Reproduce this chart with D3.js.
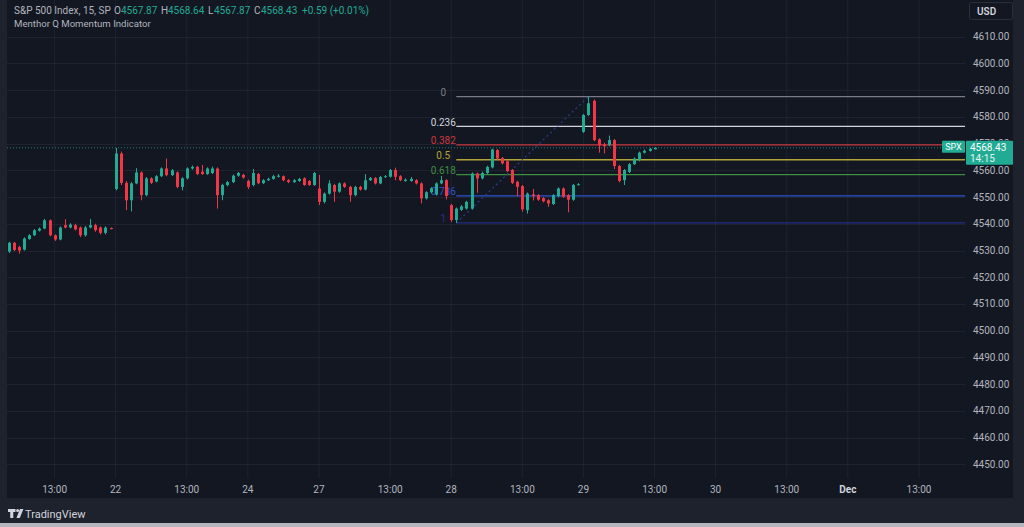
<!DOCTYPE html>
<html>
<head>
<meta charset="utf-8">
<script src="https://cdn.jsdelivr.net/npm/d3@7"></script>
<style>
html, body { margin: 0; padding: 0; background: #1e222d; }
svg { display: block; font-family: "Roboto", "Noto Sans", sans-serif; }
</style>
</head>
<body>
<svg class="spx-chart" width="1024" height="527"></svg>
<script>
// 15 min candles, [open, high, low, close], one array per session
var day21 = [
  [4529.6,4533.3,4529.0,4532.9],[4532.9,4533.2,4529.8,4530.2],[4531.3,4531.8,4528.8,4530.0],
  [4530.3,4534.9,4530.0,4534.5],[4534.3,4536.1,4534.0,4535.7],[4535.7,4538.0,4535.4,4537.6],
  [4537.4,4538.6,4537.1,4538.2],[4538.2,4541.8,4538.0,4541.3],[4541.3,4541.6,4535.3,4535.7],
  [4535.7,4536.0,4533.6,4534.1],[4534.1,4539.0,4533.8,4538.6],[4539.5,4541.7,4538.3,4538.6],
  [4538.6,4540.2,4538.3,4539.7],[4539.5,4540.0,4537.5,4537.9],[4538.6,4539.0,4535.0,4535.7],
  [4535.7,4539.2,4535.2,4538.6],[4538.6,4541.8,4538.3,4539.5],[4539.5,4540.0,4537.0,4537.6],
  [4538.6,4539.0,4536.0,4536.6],[4536.6,4539.0,4536.0,4538.6],[4538.4,4538.6,4537.9,4538.0]
];
var day22 = [
  [4553.0,4568.4,4552.5,4566.3],[4566.3,4567.0,4554.5,4555.3],[4555.3,4556.0,4545.1,4548.8],
  [4548.8,4555.6,4544.6,4555.1],[4555.1,4560.8,4554.8,4559.2],[4559.2,4559.6,4548.8,4550.7],
  [4550.7,4557.5,4550.3,4557.0],[4557.0,4557.4,4554.9,4555.3],[4555.8,4558.2,4555.5,4557.8],
  [4557.8,4561.1,4557.5,4560.7],[4560.7,4564.4,4557.8,4558.2],[4558.2,4560.5,4557.9,4560.0],
  [4559.2,4559.6,4553.3,4553.8],[4553.8,4557.4,4552.5,4557.0],[4557.0,4561.1,4556.6,4560.7],
  [4560.7,4561.8,4560.3,4561.3],[4561.3,4561.7,4558.2,4558.6],[4559.5,4562.0,4558.3,4558.6],
  [4558.6,4561.1,4558.3,4560.7],[4559.0,4561.4,4558.6,4560.7],[4560.7,4561.1,4545.7,4550.7],
  [4550.7,4555.0,4548.8,4554.5],[4554.5,4556.0,4554.0,4555.6],[4555.6,4558.4,4555.2,4558.0],
  [4558.0,4559.4,4557.6,4559.0],[4558.3,4558.7,4556.9,4557.3]
];
var day24 = [
  [4556.0,4556.5,4553.0,4553.8],[4554.5,4560.5,4554.0,4559.0],[4558.6,4559.0,4554.8,4555.2],
  [4555.2,4556.7,4554.9,4556.3],[4556.3,4557.2,4556.0,4556.8],[4556.8,4558.3,4556.5,4557.8],
  [4557.6,4558.6,4557.3,4558.0],[4557.8,4558.1,4555.9,4556.3],[4556.3,4556.7,4555.2,4555.6],
  [4555.6,4556.7,4555.3,4556.3],[4556.0,4557.2,4555.7,4556.8],[4557.0,4557.4,4554.2,4554.5],
  [4556.0,4556.4,4554.2,4554.5],[4554.5,4559.4,4554.2,4559.0]
];
var day27 = [
  [4553.2,4558.3,4547.0,4548.2],[4548.2,4551.7,4547.6,4551.3],[4551.3,4556.3,4550.9,4555.1],
  [4554.5,4554.9,4548.2,4552.0],[4552.0,4555.5,4551.6,4555.1],[4555.1,4555.5,4553.4,4553.8],
  [4553.8,4554.2,4548.2,4550.7],[4550.7,4554.2,4550.3,4553.8],[4553.8,4554.2,4552.4,4552.8],
  [4552.8,4558.6,4552.5,4556.3],[4556.3,4557.5,4556.0,4557.1],[4557.1,4557.5,4554.7,4555.1],
  [4555.1,4557.9,4554.8,4557.5],[4557.5,4558.2,4557.2,4557.8],[4557.6,4560.5,4557.3,4560.1],
  [4560.1,4561.0,4556.3,4557.6],[4557.8,4558.2,4555.9,4556.3],[4556.0,4557.0,4555.7,4556.5],
  [4556.0,4557.5,4555.7,4556.8],[4556.3,4556.7,4554.7,4555.1],[4555.1,4555.5,4547.6,4549.5],
  [4549.5,4552.2,4549.1,4551.8],[4551.8,4553.7,4551.4,4553.3],[4551.0,4555.5,4550.6,4555.1],
  [4555.1,4557.9,4554.8,4556.3],[4556.3,4556.7,4549.1,4550.4]
];
var day28 = [
  [4547.0,4547.4,4540.7,4541.4],[4541.4,4546.1,4540.3,4545.7],[4545.2,4547.0,4544.8,4546.5],
  [4545.7,4548.6,4545.3,4548.2],[4545.7,4559.2,4545.3,4558.8],[4558.8,4559.2,4551.6,4557.0],
  [4557.0,4559.5,4556.6,4559.0],[4559.0,4561.7,4558.6,4561.3],[4561.1,4568.1,4560.7,4567.8],
  [4567.6,4568.0,4564.0,4564.4],[4564.6,4565.0,4562.2,4562.6],[4563.4,4563.8,4559.3,4559.7],
  [4560.1,4560.5,4554.9,4555.3],[4555.7,4556.1,4550.3,4553.8],[4554.1,4554.5,4544.5,4545.4],
  [4545.1,4551.7,4543.8,4551.3],[4551.0,4553.0,4548.7,4550.3],[4550.7,4551.1,4548.6,4549.0],
  [4549.6,4550.0,4548.0,4548.4],[4548.8,4549.2,4546.3,4547.6],[4547.4,4551.1,4547.0,4550.7],
  [4550.3,4553.6,4549.9,4553.2],[4553.2,4553.6,4549.7,4550.1],[4550.7,4551.1,4544.3,4549.0],
  [4549.0,4554.9,4548.6,4554.5],[4554.5,4555.2,4554.3,4554.8]
];
var day29 = [
  [4574.4,4581.1,4574.0,4580.7],[4580.7,4587.6,4580.3,4585.1],[4586.0,4586.5,4570.9,4571.3],
  [4571.6,4572.0,4566.6,4569.4],[4569.6,4570.3,4566.3,4569.0],[4569.4,4573.0,4569.0,4571.3],
  [4571.3,4571.7,4560.5,4561.6],[4561.6,4562.0,4555.5,4556.0],[4556.3,4560.5,4554.5,4560.1],
  [4559.4,4562.7,4559.0,4562.3],[4562.3,4564.8,4562.0,4564.4],[4563.8,4567.0,4563.4,4566.6],
  [4566.6,4567.8,4566.3,4567.3],[4567.3,4568.4,4567.0,4568.0],[4567.87,4568.64,4567.87,4568.43]
];
// first 15 min slot of each session (26 slots per full day, 24th is a half day)
var sessionData = [day21, day22, day24, day27, day28, day29];
var sessionFirstSlot = [5, 26, 52, 66, 92, 118];

// axis ticks
var timeTickSlots = [14, 26, 40, 52, 66, 80, 92, 106, 118, 132, 144, 158, 170, 184];
var timeTickLabels = ['13:00','22','13:00','24','27','13:00','28','13:00','29','13:00','30','13:00','Dec','13:00'];
var priceTicks = [4450,4460,4470,4480,4490,4500,4510,4520,4530,4540,4550,4560,4570,4580,4590,4600,4610];

// fibonacci retracement drawn from the 28th low to the 29th high
var fibLevels = [0, 0.236, 0.382, 0.5, 0.618, 0.786, 1];
var fibColors = ['#787b86', '#d1d4dc', '#c9393f', '#b3a437', '#3f8e3f', '#2f55d0', '#272d86'];

var lastPrice = 4568.43;

// flatten sessions into bars with slot index
var bars = [];
sessionData.forEach(function(day, k) {
  day.forEach(function(d, i) {
    bars.push({slot: sessionFirstSlot[k] + i, o: d[0], h: d[1], l: d[2], c: d[3]});
  });
});

var green = '#22ab94', red = '#f23645';
var svg = d3.select('svg.spx-chart');
var pane = {l: 7, r: 965, t: 0, b: 478};

var xScale = d3.scaleLinear().domain([0, 184]).range([-16.6, 919.0]);
var yScale = d3.scaleLinear().domain([4450, 4610]).range([464.3, 36.7]);
var py = yScale(lastPrice);

// background: outer frame, pane, footer
svg.append('rect').attr('width', 1024).attr('height', 527).attr('fill', '#1e222d');
svg.append('rect').attr('x', 7).attr('y', 0).attr('width', 1006).attr('height', 498).attr('fill', '#131722');
svg.append('rect').attr('x', 0).attr('y', 523).attr('width', 1024).attr('height', 4).attr('fill', '#b4b6bb');

var defs = svg.append('defs');
defs.append('clipPath').attr('id', 'pane-clip')
  .append('rect').attr('x', pane.l).attr('y', pane.t)
  .attr('width', pane.r - pane.l).attr('height', pane.b - pane.t);
// the price tag hides most of the label behind it
defs.append('clipPath').attr('id', 'scale-clip')
  .append('path').attr('d', 'M965,0 H1013 V' + (py - 7) + ' H965 Z M965,' + (py + 17) + ' H1013 V478 H965 Z');

var gridG = svg.append('g').attr('class', 'grid').attr('clip-path', 'url(#pane-clip)');
gridG.selectAll('line.v').data(timeTickSlots).enter().append('line')
  .attr('class', 'v')
  .attr('x1', function(d) { return xScale(d); }).attr('x2', function(d) { return xScale(d); })
  .attr('y1', pane.t).attr('y2', pane.b)
  .attr('stroke', '#1f2330').attr('stroke-width', 1);
gridG.selectAll('line.h').data(priceTicks).enter().append('line')
  .attr('class', 'h')
  .attr('x1', pane.l).attr('x2', pane.r)
  .attr('y1', function(d) { return Math.round(yScale(d)) + 0.5; })
  .attr('y2', function(d) { return Math.round(yScale(d)) + 0.5; })
  .attr('stroke', '#1f2330').attr('stroke-width', 1);

var plotG = svg.append('g').attr('clip-path', 'url(#pane-clip)');

// current price dotted line
plotG.append('line')
  .attr('x1', pane.l).attr('x2', pane.r)
  .attr('y1', py).attr('y2', py)
  .attr('stroke', green).attr('stroke-width', 1).attr('stroke-dasharray', '1,2').attr('opacity', 0.7);

// fib retracement
var fibLowBar = day28[1], fibHighBar = day29[1];
var fibLow = fibLowBar[2], fibHigh = fibHighBar[1];
var fibX0 = xScale(sessionFirstSlot[4] + 1), fibX1 = xScale(sessionFirstSlot[5] + 1);
var fibG = plotG.append('g').attr('class', 'fib');

fibG.selectAll('line.level').data(fibLevels).enter().append('line')
  .attr('class', 'level')
  .attr('x1', fibX0).attr('x2', pane.r)
  .attr('y1', function(d) { return yScale(fibHigh - d * (fibHigh - fibLow)); })
  .attr('y2', function(d) { return yScale(fibHigh - d * (fibHigh - fibLow)); })
  .attr('stroke', function(d, i) { return fibColors[i]; })
  .attr('stroke-width', 1.3);

fibG.selectAll('text.level').data(fibLevels).enter().append('text')
  .attr('class', 'level')
  .attr('x', fibX0 - 13)
  .attr('y', function(d) { return yScale(fibHigh - d * (fibHigh - fibLow)) - 0.5; })
  .attr('text-anchor', 'middle')
  .attr('font-size', 10)
  .attr('fill', function(d, i) { return fibColors[i]; })
  .text(function(d) { return String(d); });

// dotted trend line of the retracement
fibG.append('line')
  .attr('x1', fibX0).attr('y1', yScale(fibLow))
  .attr('x2', fibX1).attr('y2', yScale(fibHigh))
  .attr('stroke', '#2a3d8f').attr('stroke-width', 1.2).attr('stroke-dasharray', '2,3');

// candles
var candles = plotG.selectAll('g.candle').data(bars).enter().append('g')
  .attr('class', 'candle')
  .attr('transform', function(d) { return 'translate(' + Math.round(xScale(d.slot)) + ',0)'; });
candles.append('line')
  .attr('x1', 0.5).attr('x2', 0.5)
  .attr('y1', function(d) { return yScale(d.h); })
  .attr('y2', function(d) { return yScale(d.l); })
  .attr('stroke', function(d) { return d.c >= d.o ? green : red; })
  .attr('stroke-width', 1);
candles.append('rect')
  .attr('x', -1).attr('width', 3)
  .attr('y', function(d) { return yScale(Math.max(d.o, d.c)); })
  .attr('height', function(d) { return Math.max(1, Math.abs(yScale(d.o) - yScale(d.c))); })
  .attr('fill', function(d) { return d.c >= d.o ? green : red; });

// price scale labels
svg.append('g').attr('clip-path', 'url(#scale-clip)')
  .selectAll('text').data(priceTicks).enter().append('text')
  .attr('x', 973).attr('y', function(d) { return yScale(d) + 3.5; })
  .attr('font-size', 10).attr('fill', '#b2b5be')
  .text(function(d) { return d.toFixed(2); });

// USD box
svg.append('rect').attr('x', 969.5).attr('y', 2.5).attr('width', 43).attr('height', 17).attr('rx', 2)
  .attr('fill', '#131722').attr('stroke', '#2a2e39');
svg.append('text').attr('x', 977).attr('y', 15).attr('font-size', 10).attr('font-weight', 600)
  .attr('fill', '#d1d4dc').text('USD');

// last price tags
svg.append('rect').attr('x', 942).attr('y', py - 7).attr('width', 23).attr('height', 12).attr('rx', 1).attr('fill', green);
svg.append('text').attr('x', 953.5).attr('y', py + 2.5).attr('text-anchor', 'middle')
  .attr('font-size', 9).attr('fill', '#ffffff').text('SPX');
svg.append('rect').attr('x', 966).attr('y', py - 7).attr('width', 47).attr('height', 24).attr('rx', 1).attr('fill', green);
svg.append('text').attr('x', 970).attr('y', py + 3.5).attr('font-size', 10).attr('fill', '#ffffff').text(lastPrice.toFixed(2));
svg.append('text').attr('x', 970).attr('y', py + 14.5).attr('font-size', 10).attr('fill', '#e6f5f1').text('14:15');

// time axis labels
svg.append('g').selectAll('text').data(timeTickSlots).enter().append('text')
  .attr('x', function(d) { return xScale(d); }).attr('y', 493)
  .attr('text-anchor', 'middle').attr('font-size', 10)
  .attr('font-weight', function(d, i) { return timeTickLabels[i] === 'Dec' ? 700 : 400; })
  .attr('fill', function(d, i) { return timeTickLabels[i] === 'Dec' ? '#d1d4dc' : '#b2b5be'; })
  .text(function(d, i) { return timeTickLabels[i]; });

// legend header
var header = svg.append('text').attr('y', 14).attr('font-size', 10);
var headerParts = [
  {x: 14, t: 'S&P 500 Index, 15, SP', c: '#b2b5be'},
  {x: 114, t: 'O', c: '#b2b5be'}, {x: 121, t: '4567.87', c: green},
  {x: 161, t: 'H', c: '#b2b5be'}, {x: 168, t: '4568.64', c: green},
  {x: 208, t: 'L', c: '#b2b5be'}, {x: 214, t: '4567.87', c: green},
  {x: 254, t: 'C', c: '#b2b5be'}, {x: 261, t: '4568.43', c: green},
  {x: 302, t: '+0.59 (+0.01%)', c: green}
];
headerParts.forEach(function(p) {
  header.append('tspan').attr('x', p.x).attr('fill', p.c).text(p.t);
});
svg.append('text').attr('x', 14).attr('y', 27).attr('font-size', 9.6).attr('fill', '#b2b5be')
  .text('Menthor Q Momentum Indicator');

// TradingView footer logo
var logo = svg.append('g').attr('fill', '#d1d4dc');
logo.append('path').attr('d', 'M8,509 h7.5 v3 h-2.2 v6 h-3.1 v-6 h-2.2 z');
logo.append('circle').attr('cx', 17.6).attr('cy', 510.5).attr('r', 1.5);
logo.append('path').attr('d', 'M20,509 h3.4 l-3.6,9 h-3.4 z');
svg.append('text').attr('x', 25).attr('y', 518).attr('font-size', 11).attr('fill', '#d1d4dc').text('TradingView');
</script>
</body>
</html>
